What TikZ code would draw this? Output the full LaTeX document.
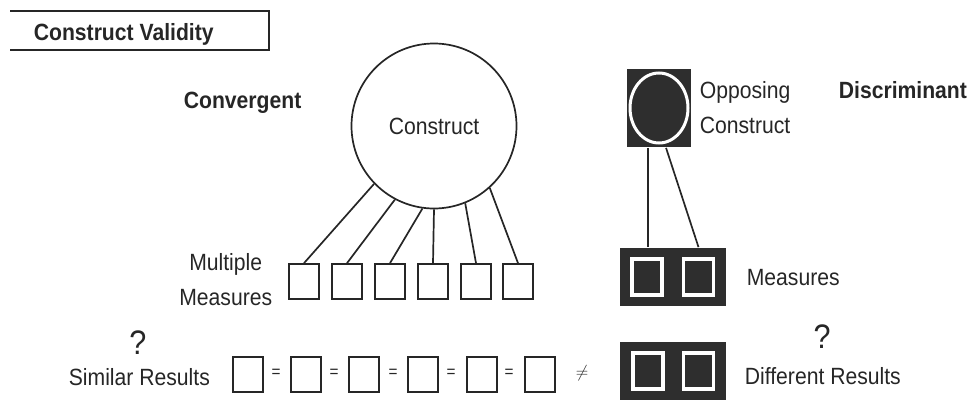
\documentclass[tikz,border=0pt]{standalone}
\usepackage{fontspec}
\setmainfont{Liberation Sans}[FakeStretch=0.9]
\definecolor{ink}{HTML}{262626}
\definecolor{slab}{HTML}{2E2E2E}

\begin{document}
\begin{tikzpicture}[x=1pt,y=-1pt,line width=1.7pt,color=ink,
  lbl/.style={inner sep=0pt,font=\fontsize{23.5}{34.5}\selectfont},
  hd/.style={inner sep=0pt,font=\fontsize{23.5}{34.5}\selectfont\bfseries},
  qm/.style={inner sep=0pt,font=\fontsize{34}{34}\selectfont},
  eq/.style={inner sep=0pt,font=\fontsize{17}{17}\selectfont},
  sq/.style={draw,minimum width=30pt,minimum height=35pt,inner sep=0pt},
  slabbox/.style={fill=slab,minimum width=106pt,minimum height=58pt,inner sep=0pt},
  wsq/.style={draw=white,fill=slab,line width=3.5pt,minimum width=30pt,minimum height=36pt,inner sep=0pt}]
  \useasboundingbox (0,0) rectangle (972,399);

  \node[hd,anchor=base west] (title) at (33,40) {Construct Validity};
  \draw (10,11) -| (269,50) -- (10,50);

  % convergent side
  \node[hd,anchor=base west] (conv) at (183,108) {Convergent};
  \node[lbl,circle,draw,minimum size=165pt] (construct) at (434,126) {Construct};
  \foreach \i/\x/\a in {1/304/224,2/347/242,3/390/262,4/433/270,5/476/292,6/518/312}{
    \node[sq] (m\i) at (\x,281.5) {};
    \draw (construct.\a) -- (m\i.north);
  }
  \node[lbl,align=center,anchor=east] (multi) at (273,279.5) {Multiple\\Measures};

  % discriminant side
  \node[fill=slab,minimum width=64pt,minimum height=78pt,inner sep=0pt] (opp) at (659,108) {};
  \draw[white,line width=3pt] (opp) ellipse [x radius=29pt,y radius=35pt];
  \node[lbl,align=left,anchor=west] (opptxt) at (699,107.5) {Opposing\\Construct};
  \node[hd,anchor=base west] (disc) at (838,98) {Discriminant};
  \node[slabbox] (dm) at (673,277) {};
  \node[wsq] (d1) at (647,277) {};
  \node[wsq] (d2) at (698.5,277) {};
  \draw (opp.255) -- (opp.255 |- dm.north);
  \draw (opp.280) -- (d2 |- dm.north);
  \node[lbl,anchor=base west] (meas) at (746,285) {Measures};

  % results row
  \node[qm] (q1) at (138,343) {?};
  \node[lbl,anchor=base west] (sim) at (68,385) {Similar Results};
  \foreach \i/\x in {1/248,2/306,3/364,4/423,5/482,6/540}
    \node[sq] (r\i) at (\x,374.5) {};
  \foreach \x in {276,334,393,451,509}
    \node[eq] at (\x,373) {=};
  \node[eq] (neq) at (582,373) {$\neq$};
  \node[slabbox] (dr) at (673,371) {};
  \node[wsq] (e1) at (648,371) {};
  \node[wsq] (e2) at (698.5,371) {};
  \node[qm] (q2) at (822,336.5) {?};
  \node[lbl,anchor=base west] (diff) at (744,384) {Different Results};
\end{tikzpicture}
\end{document}
